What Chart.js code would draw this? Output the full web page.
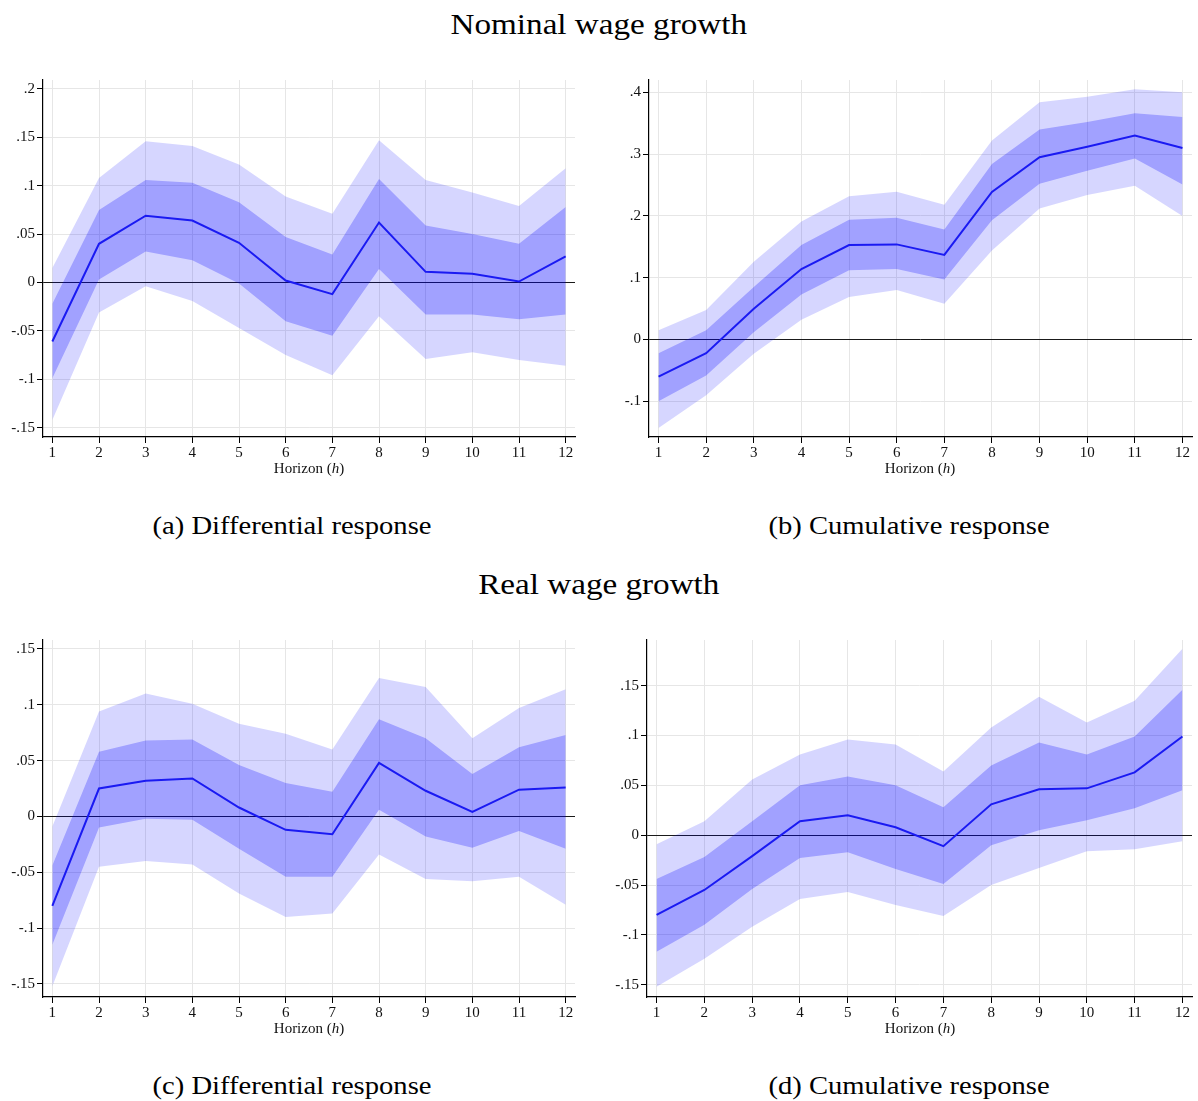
<!DOCTYPE html>
<html>
<head>
<meta charset="utf-8">
<script src="https://cdn.jsdelivr.net/npm/chart.js@4.4.1/dist/chart.umd.min.js"></script>
<style>
  html, body { margin: 0; padding: 0; background: #fff; }
  body { width: 1198px; height: 1101px; position: relative; overflow: hidden; font-family: "Liberation Serif", "DejaVu Serif", serif; color: #000; }
  .panel { position: absolute; }
  .head { position: absolute; left: 0; width: 1198px; text-align: center; font-size: 30px; line-height: 1; transform: scaleX(1.105); transform-origin: 601px 0; }
  .cap { position: absolute; width: 400px; text-align: center; font-size: 26px; line-height: 1; transform: scaleX(1.1); }
  .xt { position: absolute; width: 200px; text-align: center; font-size: 15px; line-height: 1; color: #111; }
</style>
</head>
<body>
<div class="head" style="top:9px">Nominal wage growth</div>
<div class="head" style="top:569px">Real wage growth</div>

<div class="panel" style="left:0;top:75px;width:580px;height:410px"><canvas id="cA"></canvas></div>
<div class="panel" style="left:600px;top:75px;width:597px;height:410px"><canvas id="cB"></canvas></div>
<div class="panel" style="left:0;top:635px;width:580px;height:410px"><canvas id="cC"></canvas></div>
<div class="panel" style="left:600px;top:635px;width:597px;height:410px"><canvas id="cD"></canvas></div>

<div class="xt" style="left:209px;top:461px">Horizon (<i>h</i>)</div>
<div class="xt" style="left:820px;top:461px">Horizon (<i>h</i>)</div>
<div class="xt" style="left:209px;top:1021px">Horizon (<i>h</i>)</div>
<div class="xt" style="left:820px;top:1021px">Horizon (<i>h</i>)</div>

<div class="cap" style="left:92px;top:513px">(a) Differential response</div>
<div class="cap" style="left:709px;top:513px">(b) Cumulative response</div>
<div class="cap" style="left:92px;top:1073px">(c) Differential response</div>
<div class="cap" style="left:709px;top:1073px">(d) Cumulative response</div>

<script>
// Horizons (months after the shock)
const horizons = [1, 2, 3, 4, 5, 6, 7, 8, 9, 10, 11, 12];

// (a) Nominal wage growth, differential response
const nomDiffEst     = [-0.061, 0.040, 0.069, 0.064, 0.041, 0.002, -0.012, 0.062, 0.011, 0.009, 0.001, 0.027];
const nomDiffInnerLo = [-0.099, 0.003, 0.032, 0.023, -0.001, -0.040, -0.055, 0.014, -0.033, -0.033, -0.038, -0.033];
const nomDiffInnerHi = [-0.022, 0.075, 0.106, 0.103, 0.083, 0.047, 0.029, 0.107, 0.059, 0.050, 0.040, 0.078];
const nomDiffOuterLo = [-0.142, -0.031, -0.004, -0.019, -0.047, -0.075, -0.096, -0.035, -0.079, -0.072, -0.080, -0.086];
const nomDiffOuterHi = [0.015, 0.108, 0.146, 0.141, 0.122, 0.089, 0.071, 0.147, 0.106, 0.093, 0.079, 0.118];

// (b) Nominal wage growth, cumulative response
const nomCumEst     = [-0.060, -0.022, 0.050, 0.114, 0.153, 0.154, 0.137, 0.239, 0.295, 0.312, 0.330, 0.310];
const nomCumInnerLo = [-0.100, -0.058, 0.012, 0.073, 0.112, 0.114, 0.097, 0.193, 0.252, 0.273, 0.293, 0.251];
const nomCumInnerHi = [-0.022, 0.015, 0.085, 0.153, 0.194, 0.197, 0.178, 0.284, 0.340, 0.352, 0.366, 0.360];
const nomCumOuterLo = [-0.143, -0.090, -0.023, 0.032, 0.069, 0.080, 0.058, 0.144, 0.212, 0.234, 0.249, 0.200];
const nomCumOuterHi = [0.015, 0.048, 0.126, 0.191, 0.232, 0.239, 0.218, 0.322, 0.384, 0.393, 0.405, 0.400];

// (c) Real wage growth, differential response
const realDiffEst     = [-0.080, 0.025, 0.032, 0.034, 0.008, -0.012, -0.016, 0.048, 0.023, 0.004, 0.024, 0.026];
const realDiffInnerLo = [-0.115, -0.010, -0.002, -0.003, -0.029, -0.054, -0.054, 0.006, -0.018, -0.028, -0.013, -0.029];
const realDiffInnerHi = [-0.044, 0.058, 0.068, 0.069, 0.046, 0.030, 0.022, 0.087, 0.070, 0.038, 0.062, 0.073];
const realDiffOuterLo = [-0.152, -0.045, -0.040, -0.043, -0.069, -0.090, -0.087, -0.034, -0.056, -0.058, -0.054, -0.079];
const realDiffOuterHi = [-0.009, 0.094, 0.110, 0.101, 0.083, 0.074, 0.060, 0.124, 0.116, 0.070, 0.097, 0.114];

// (d) Real wage growth, cumulative response
const realCumEst     = [-0.080, -0.055, -0.021, 0.014, 0.020, 0.008, -0.011, 0.031, 0.046, 0.047, 0.063, 0.099];
const realCumInnerLo = [-0.117, -0.090, -0.054, -0.023, -0.017, -0.034, -0.049, -0.010, 0.005, 0.015, 0.027, 0.045];
const realCumInnerHi = [-0.044, -0.022, 0.014, 0.050, 0.059, 0.050, 0.028, 0.070, 0.093, 0.081, 0.099, 0.146];
const realCumOuterLo = [-0.152, -0.124, -0.092, -0.064, -0.057, -0.070, -0.081, -0.050, -0.033, -0.016, -0.014, -0.006];
const realCumOuterHi = [-0.009, 0.014, 0.056, 0.081, 0.096, 0.091, 0.064, 0.108, 0.139, 0.113, 0.135, 0.187];

// Tick values for each vertical axis
const yTicksA = [-0.15, -0.1, -0.05, 0, 0.05, 0.1, 0.15, 0.2];
const yTicksB = [-0.1, 0, 0.1, 0.2, 0.3, 0.4];
const yTicksC = [-0.15, -0.1, -0.05, 0, 0.05, 0.1, 0.15];
const yTicksD = [-0.15, -0.1, -0.05, 0, 0.05, 0.1, 0.15];

const BAND_OUTER = 'rgba(0, 0, 255, 0.16)';
const BAND_INNER = 'rgba(0, 0, 255, 0.25)';
const LINE_COLOR = '#1a1af2';
const TICK_FONT = { family: '"Liberation Serif", "DejaVu Serif", serif', size: 15 };

function pts(arr) { return horizons.map((h, i) => ({ x: h, y: arr[i] })); }

// Stata-style labels: ".05", "-.1", "0"
function fmt(v) {
  if (Math.abs(v) < 1e-9) return '0';
  let s = String(Math.round(v * 1000) / 1000);
  return s.replace(/^(-?)0\./, '$1.');
}

// keep the plot box fixed: no extra room reserved for edge labels
function noPad(s) { s.paddingTop = 0; s.paddingBottom = 0; s.paddingLeft = 0; s.paddingRight = 0; }

function draw(id, est, inLo, inHi, outLo, outHi, yTicks, yMin, yMax, yAxisWidth) {
  const ctx = document.getElementById(id);
  new Chart(ctx, {
    type: 'line',
    data: {
      datasets: [
        { data: pts(est), borderColor: LINE_COLOR, borderWidth: 2, pointRadius: 0, fill: false, tension: 0 },
        { data: pts(inLo), borderWidth: 0, borderColor: 'transparent', pointRadius: 0, fill: false },
        { data: pts(inHi), borderWidth: 0, borderColor: 'transparent', pointRadius: 0, fill: '-1', backgroundColor: BAND_INNER },
        { data: pts(outLo), borderWidth: 0, borderColor: 'transparent', pointRadius: 0, fill: false },
        { data: pts(outHi), borderWidth: 0, borderColor: 'transparent', pointRadius: 0, fill: '-1', backgroundColor: BAND_OUTER }
      ]
    },
    options: {
      responsive: true,
      maintainAspectRatio: false,
      animation: false,
      layout: { padding: { top: 5, right: 5, left: 0, bottom: 0 } },
      plugins: { legend: { display: false }, tooltip: { enabled: false } },
      scales: {
        x: {
          type: 'linear',
          min: 0.8,
          max: 12.2,
          afterBuildTicks: (s) => { s.ticks = horizons.map(v => ({ value: v })); },
          afterFit: (s) => { s.height = 48; noPad(s); },
          ticks: { font: TICK_FONT, color: '#111', padding: 1, maxRotation: 0, autoSkip: false },
          grid: { color: '#e6e6e6', lineWidth: 1, tickColor: '#000', tickLength: 6 },
          border: { color: '#000', width: 1.2 }
        },
        y: {
          type: 'linear',
          min: yMin,
          max: yMax,
          afterBuildTicks: (s) => { s.ticks = yTicks.map(v => ({ value: v })); },
          afterFit: (s) => { s.width = yAxisWidth; noPad(s); },
          ticks: { font: TICK_FONT, color: '#111', padding: 2, callback: (v) => fmt(v), autoSkip: false },
          grid: {
            color: (c) => (c.tick && Math.abs(c.tick.value) < 1e-9) ? '#1a1a1a' : '#e6e6e6',
            lineWidth: 1, tickColor: '#000', tickLength: 6
          },
          border: { color: '#000', width: 1.2 }
        }
      }
    }
  });
}

draw('cA', nomDiffEst, nomDiffInnerLo, nomDiffInnerHi, nomDiffOuterLo, nomDiffOuterHi, yTicksA, -0.1597, 0.2093, 43);
draw('cB', nomCumEst, nomCumInnerLo, nomCumInnerHi, nomCumOuterLo, nomCumOuterHi, yTicksB, -0.1577, 0.42, 49);
draw('cC', realDiffEst, realDiffInnerLo, realDiffInnerHi, realDiffOuterLo, realDiffOuterHi, yTicksC, -0.1617, 0.158, 43);
draw('cD', realCumEst, realCumInnerLo, realCumInnerHi, realCumOuterLo, realCumOuterHi, yTicksD, -0.1624, 0.1959, 47);
</script>
</body>
</html>
